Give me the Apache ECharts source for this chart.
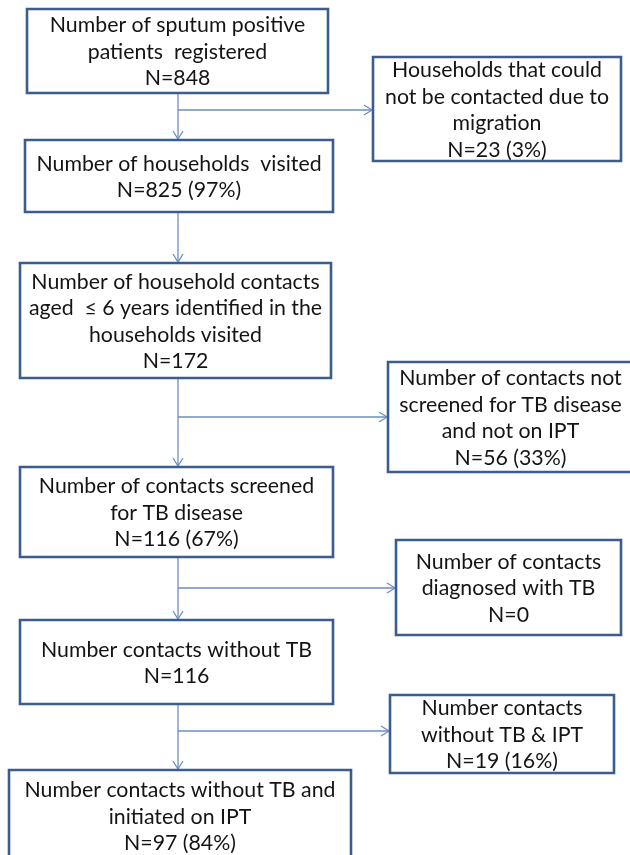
<!DOCTYPE html>
<html>
<head>
<meta charset="utf-8">
<title>Household contact screening flow</title>
<script src="https://cdn.jsdelivr.net/npm/echarts@6/dist/echarts.min.js"></script>
<style>html,body{margin:0;padding:0;background:#fff;}</style>
</head>
<body>
<div id="main" style="width:630px;height:855px;"></div>
<script type="text/javascript">
// steps down the main column
var mainSteps = [
    'Number of sputum positive\npatients  registered',
    'Number of households  visited',
    'Number of household contacts\naged  \u2264 6 years identified in the\nhouseholds visited',
    'Number of contacts screened\nfor TB disease',
    'Number contacts without TB',
    'Number contacts without TB and\ninitiated on IPT'
];
var mainCounts = ['N=848', 'N=825 (97%)', 'N=172', 'N=116 (67%)', 'N=116', 'N=97 (84%)'];

// boxes branching off to the right
var sideSteps = [
    'Households that could\nnot be contacted due to\nmigration',
    'Number of contacts not\nscreened for TB disease\nand not on IPT',
    'Number of contacts\ndiagnosed with TB',
    'Number contacts\nwithout TB & IPT'
];
var sideCounts = ['N=23 (3%)', 'N=56 (33%)', 'N=0', 'N=19 (16%)'];
var sideFrom = [0, 2, 3, 4]; // main step each side box leaves from

// layout (page units, y downwards)
var mainBoxes = [[27, 9, 328, 93], [25, 140, 333, 212], [20, 263, 331, 378],
                 [20, 467, 333, 557], [20, 620, 333, 704], [9, 770, 351, 862]];
var sideBoxes = [[373, 57, 621, 161], [388, 362, 633, 472], [396, 540, 621, 635], [390, 695, 614, 773]];
var branchY = [110, 417, 588, 731];
var trunkX = 178;

var boxColor = '#3b5d8c';
var arrowColor = '#6b8fc4';

var boxData = [], boxText = [];
mainBoxes.forEach(function (b, i) {
    boxData.push(b);
    boxText.push(mainSteps[i] + '\n' + mainCounts[i]);
});
sideBoxes.forEach(function (b, i) {
    boxData.push(b);
    boxText.push(sideSteps[i] + '\n' + sideCounts[i]);
});

var arrowData = [];
for (var i = 0; i < mainBoxes.length - 1; i++) {
    arrowData.push([trunkX, mainBoxes[i][3], trunkX, mainBoxes[i + 1][1]]);
}
sideFrom.forEach(function (m, k) {
    arrowData.push([trunkX, branchY[k], sideBoxes[k][0], branchY[k]]);
});

var myChart = echarts.init(document.getElementById('main'));

var option = {
    animation: false,
    grid: {left: 0, right: 0, top: 0, bottom: 0},
    xAxis: {type: 'value', min: 0, max: 630, show: false},
    yAxis: {type: 'value', min: 0, max: 855, inverse: true, show: false},
    series: [{
        type: 'custom',
        clip: false,
        data: arrowData,
        encode: {x: [0, 2], y: [1, 3]},
        z: 1,
        renderItem: function (params, api) {
            var a = api.coord([api.value(0), api.value(1)]);
            var b = api.coord([api.value(2), api.value(3)]);
            var dx = b[0] - a[0], dy = b[1] - a[1];
            var len = Math.sqrt(dx * dx + dy * dy);
            var ux = dx / len, uy = dy / len;
            var hl = 8, hw = 5;
            var e = [b[0] - ux * 1, b[1] - uy * 1];
            return {
                type: 'group',
                children: [{
                    type: 'line',
                    shape: {x1: a[0], y1: a[1], x2: e[0], y2: e[1]},
                    style: {stroke: arrowColor, lineWidth: 1.3}
                }, {
                    type: 'polyline',
                    shape: {points: [
                        [e[0] - ux * hl - uy * hw, e[1] - uy * hl + ux * hw],
                        e,
                        [e[0] - ux * hl + uy * hw, e[1] - uy * hl - ux * hw]
                    ]},
                    style: {stroke: arrowColor, lineWidth: 1.3, fill: null}
                }]
            };
        }
    }, {
        type: 'custom',
        clip: false,
        data: boxData,
        encode: {x: [0, 2], y: [1, 3]},
        z: 2,
        renderItem: function (params, api) {
            var p0 = api.coord([api.value(0), api.value(1)]);
            var p1 = api.coord([api.value(2), api.value(3)]);
            return {
                type: 'group',
                children: [{
                    type: 'rect',
                    shape: {x: p0[0], y: p0[1], width: p1[0] - p0[0], height: p1[1] - p0[1]},
                    style: {fill: '#fff', stroke: boxColor, lineWidth: 2.6}
                }, {
                    type: 'text',
                    x: (p0[0] + p1[0]) / 2,
                    y: (p0[1] + p1[1]) / 2 + 1,
                    style: {
                        text: boxText[params.dataIndex],
                        align: 'center',
                        verticalAlign: 'middle',
                        fontFamily: 'Lato',
                        fontSize: 21.3,
                        lineHeight: 26.5,
                        fill: '#141414'
                    }
                }]
            };
        }
    }]
};
myChart.setOption(option);
</script>
</body>
</html>
